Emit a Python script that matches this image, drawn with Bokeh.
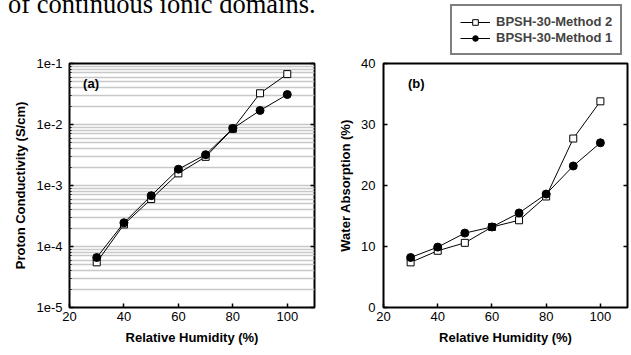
from bokeh.plotting import figure
from bokeh.models import (Range1d, FixedTicker, LogAxis, LinearAxis, CustomJSTickFormatter,
                          Legend, LegendItem, Div)
from bokeh.core.properties import value
from bokeh.layouts import row, column
from bokeh.embed import file_html
from bokeh.resources import INLINE

# ---- data ----
rh = [30, 40, 50, 60, 70, 80, 90, 100]
cond_m2 = [5.5e-5, 2.3e-4, 6.0e-4, 1.58e-3, 2.95e-3, 8.5e-3, 3.25e-2, 6.7e-2]
cond_m1 = [6.6e-5, 2.45e-4, 6.8e-4, 1.85e-3, 3.2e-3, 8.6e-3, 1.7e-2, 3.1e-2]
wa_m2 = [7.4, 9.3, 10.6, 13.2, 14.3, 18.2, 27.7, 33.8]
wa_m1 = [8.2, 9.9, 12.2, 13.2, 15.5, 18.6, 23.2, 27.0]
series_names = ["BPSH-30-Method 2", "BPSH-30-Method 1"]
x_ticks = [20, 40, 60, 80, 100]
cond_ticks = [1e-5, 1e-4, 1e-3, 1e-2, 1e-1]
wa_ticks = [0, 10, 20, 30, 40]
x_label = "Relative Humidity (%)"
ya_label = "Proton Conductivity (S/cm)"
yb_label = "Water Absorption (%)"
panel_tags = ["(a)", "(b)"]
top_text = "of continuous ionic domains."

FONT = "Liberation Sans"
minor_vals = [k * 10.0 ** e for e in range(-5, -1) for k in range(2, 10)]


def base_style(p):
    p.outline_line_color = "black"
    p.outline_line_width = 2
    p.background_fill_color = "white"
    p.border_fill_color = "white"
    p.xgrid.visible = False
    for ax in p.axis:
        ax.axis_line_color = None
        ax.major_tick_in = 4
        ax.major_tick_out = 0
        ax.minor_tick_in = 0
        ax.minor_tick_out = 0
        ax.major_tick_line_color = "black"
        ax.major_tick_line_width = 1.5
        ax.major_label_text_font = FONT
        ax.major_label_text_font_size = "13px"
        ax.major_label_text_color = "black"
        ax.axis_label_text_font = FONT
        ax.axis_label_text_font_size = "13px"
        ax.axis_label_text_font_style = "bold"
        ax.axis_label_text_color = "black"
    p.xaxis.ticker = FixedTicker(ticks=x_ticks)
    p.xaxis.axis_label = x_label
    p.xaxis.major_label_standoff = 4
    p.xaxis.axis_label_standoff = 6


def right_ticks(p, ticker, log=False):
    ax = LogAxis() if log else LinearAxis()
    ax.ticker = ticker
    ax.formatter = CustomJSTickFormatter(code="return '';")
    ax.axis_line_color = None
    ax.major_tick_in = 4
    ax.major_tick_out = 0
    ax.minor_tick_in = 0
    ax.minor_tick_out = 0
    ax.major_tick_line_width = 1.5
    ax.major_label_standoff = 0
    p.add_layout(ax, "right")


# ---------- clipped line of running text above panel (a) ----------
head = Div(text=f'<div style="position:relative; top:-9px; white-space:nowrap; '
                f'font-family:\'Liberation Serif\'; font-size:26.5px; line-height:26px; color:black;">'
                f'{top_text}</div>',
           width=320, height=14, margin=0,
           styles={"overflow": "hidden", "padding-left": "8px"})

# ---------- panel (a) ----------
pa = figure(frame_width=245, frame_height=244, y_axis_type="log",
            x_range=Range1d(20, 110), y_range=Range1d(1e-5, 1e-1),
            min_border_left=69, min_border_right=6, min_border_top=49, min_border_bottom=47,
            output_backend="svg", toolbar_location=None)
base_style(pa)
ticker_a = FixedTicker(ticks=cond_ticks, minor_ticks=minor_vals)
pa.yaxis.ticker = ticker_a
pa.yaxis.minor_tick_in = 2
pa.yaxis.minor_tick_line_color = "black"
pa.yaxis.formatter = CustomJSTickFormatter(code="return '1e' + Math.round(Math.log10(tick));")
pa.yaxis.axis_label = ya_label
pa.yaxis.major_label_standoff = 7
pa.yaxis.axis_label_standoff = 5
pa.ygrid.ticker = ticker_a
pa.ygrid.grid_line_color = "#c8c8c8"
pa.ygrid.grid_line_width = 1.5
pa.ygrid.minor_grid_line_color = "#c8c8c8"
pa.ygrid.minor_grid_line_width = 1.5
right_ticks(pa, FixedTicker(ticks=cond_ticks), log=True)

pa.line(rh, cond_m2, line_color="black", line_width=1)
pa.scatter(rh, cond_m2, marker="square", size=7, fill_color="white", line_color="black", line_width=1)
pa.line(rh, cond_m1, line_color="black", line_width=1)
pa.scatter(rh, cond_m1, marker="circle", size=8, fill_color="black", line_color="black")

pa.text(x=[25], y=[0.047], text=[panel_tags[0]], text_font=value(FONT), text_font_size="13px",
        text_font_style="bold", text_baseline="middle", text_color="black")

# ---------- legend strip above panel (b) ----------
# (its renderers hold the real series but the strip's ranges keep them out of view;
#  only the legend swatches are seen)
lf = figure(width=310, height=56, x_range=Range1d(0, 1), y_range=Range1d(0, 1),
            x_axis_location=None, y_axis_location=None,
            min_border=0, min_border_left=0, min_border_right=0, min_border_top=0, min_border_bottom=0,
            output_backend="svg", toolbar_location=None)
lf.outline_line_color = None
lf.grid.visible = False
lf.background_fill_color = "white"
lf.border_fill_color = "white"
k2 = lf.line(rh, wa_m2, line_color="black", line_width=1)
m2 = lf.scatter(rh, wa_m2, marker="square", size=7, fill_color="white", line_color="black", line_width=1)
k1 = lf.line(rh, wa_m1, line_color="black", line_width=1)
m1 = lf.scatter(rh, wa_m1, marker="circle", size=8, fill_color="black", line_color="black")
legend = Legend(items=[LegendItem(label=series_names[0], renderers=[k2, m2]),
                       LegendItem(label=series_names[1], renderers=[k1, m1])],
                location=(67, 1), orientation="vertical",
                border_line_color="black", border_line_width=2,
                background_fill_color="white", background_fill_alpha=1,
                label_text_font=FONT, label_text_font_size="13px",
                label_text_font_style="bold", label_standoff=6,
                glyph_width=30, glyph_height=14, label_height=14,
                spacing=1, padding=8, margin=0)
lf.add_layout(legend, "center")

# ---------- panel (b) ----------
pb = figure(frame_width=244, frame_height=244,
            x_range=Range1d(20, 110), y_range=Range1d(0, 40),
            min_border_left=63, min_border_right=3, min_border_top=7, min_border_bottom=47,
            output_backend="svg", toolbar_location=None)
base_style(pb)
pb.ygrid.visible = False
pb.yaxis.ticker = FixedTicker(ticks=wa_ticks)
pb.yaxis.axis_label = yb_label
pb.yaxis.major_label_standoff = 8
pb.yaxis.axis_label_standoff = 5
right_ticks(pb, FixedTicker(ticks=wa_ticks[1:-1]))

pb.line(rh, wa_m2, line_color="black", line_width=1)
pb.scatter(rh, wa_m2, marker="square", size=7, fill_color="white", line_color="black", line_width=1)
pb.line(rh, wa_m1, line_color="black", line_width=1)
pb.scatter(rh, wa_m1, marker="circle", size=8, fill_color="black", line_color="black")

pb.text(x=[29], y=[36.7], text=[panel_tags[1]], text_font=value(FONT), text_font_size="13px",
        text_font_style="bold", text_baseline="middle", text_color="black")

layout = row(column(head, pa, spacing=0), column(lf, pb, spacing=0), spacing=0)
open("out.html", "w").write(file_html(layout, INLINE))
